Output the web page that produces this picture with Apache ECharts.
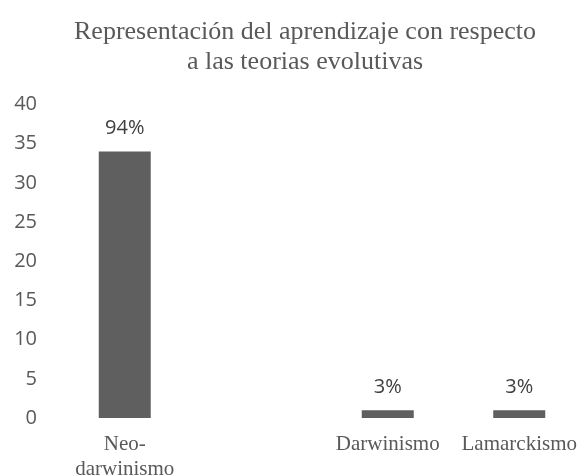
<!DOCTYPE html>
<html>
<head>
<meta charset="utf-8">
<script src="https://cdn.jsdelivr.net/npm/echarts@6/dist/echarts.min.js"></script>
<style>html,body{margin:0;padding:0;background:#fff}#c{width:579px;height:475px}</style>
</head>
<body>
<div id="c"></div>
<script>
var categories = ['Neo-\ndarwinismo', '', 'Darwinismo', 'Lamarckismo'];
var values = [34, null, 1, 1];
var pctLabels = ['94%', '', '3%', '3%'];
var yTicks = [0, 5, 10, 15, 20, 25, 30, 35, 40];

var chart = echarts.init(document.getElementById('c'), null, {renderer: 'canvas'});
chart.setOption({
  animation: false,
  backgroundColor: '#ffffff',
  title: {
    text: 'Representación del aprendizaje con respecto\na las teorias evolutivas',
    left: 300,
    textAlign: 'center',
    top: 12,
    textStyle: {fontFamily: 'Liberation Serif', fontSize: 26, fontWeight: 'normal', color: '#595959', lineHeight: 30, align: 'center'}
  },
  grid: {left: 59, width: 526, top: 104.5, bottom: 57, outerBoundsMode: 'none', containLabel: false},
  xAxis: {
    type: 'category',
    data: categories,
    axisLine: {show: false},
    axisTick: {show: false},
    axisLabel: {interval: 0, fontFamily: 'Liberation Serif', fontSize: 21, color: '#595959', lineHeight: 25, margin: 14}
  },
  yAxis: {
    type: 'value',
    min: yTicks[0],
    max: yTicks[yTicks.length - 1],
    interval: 5,
    splitLine: {show: false},
    axisLine: {show: false},
    axisTick: {show: false},
    axisLabel: {fontFamily: 'Open Sans', fontSize: 20, color: '#595959', margin: 22}
  },
  series: [{
    type: 'bar',
    data: values,
    barWidth: 52,
    itemStyle: {color: '#5f5f5f'},
    label: {
      show: true,
      position: 'top',
      distance: 13,
      fontFamily: 'Open Sans',
      fontSize: 20,
      color: '#404040',
      formatter: function (p) { return pctLabels[p.dataIndex]; }
    }
  }]
});
</script>
</body>
</html>
